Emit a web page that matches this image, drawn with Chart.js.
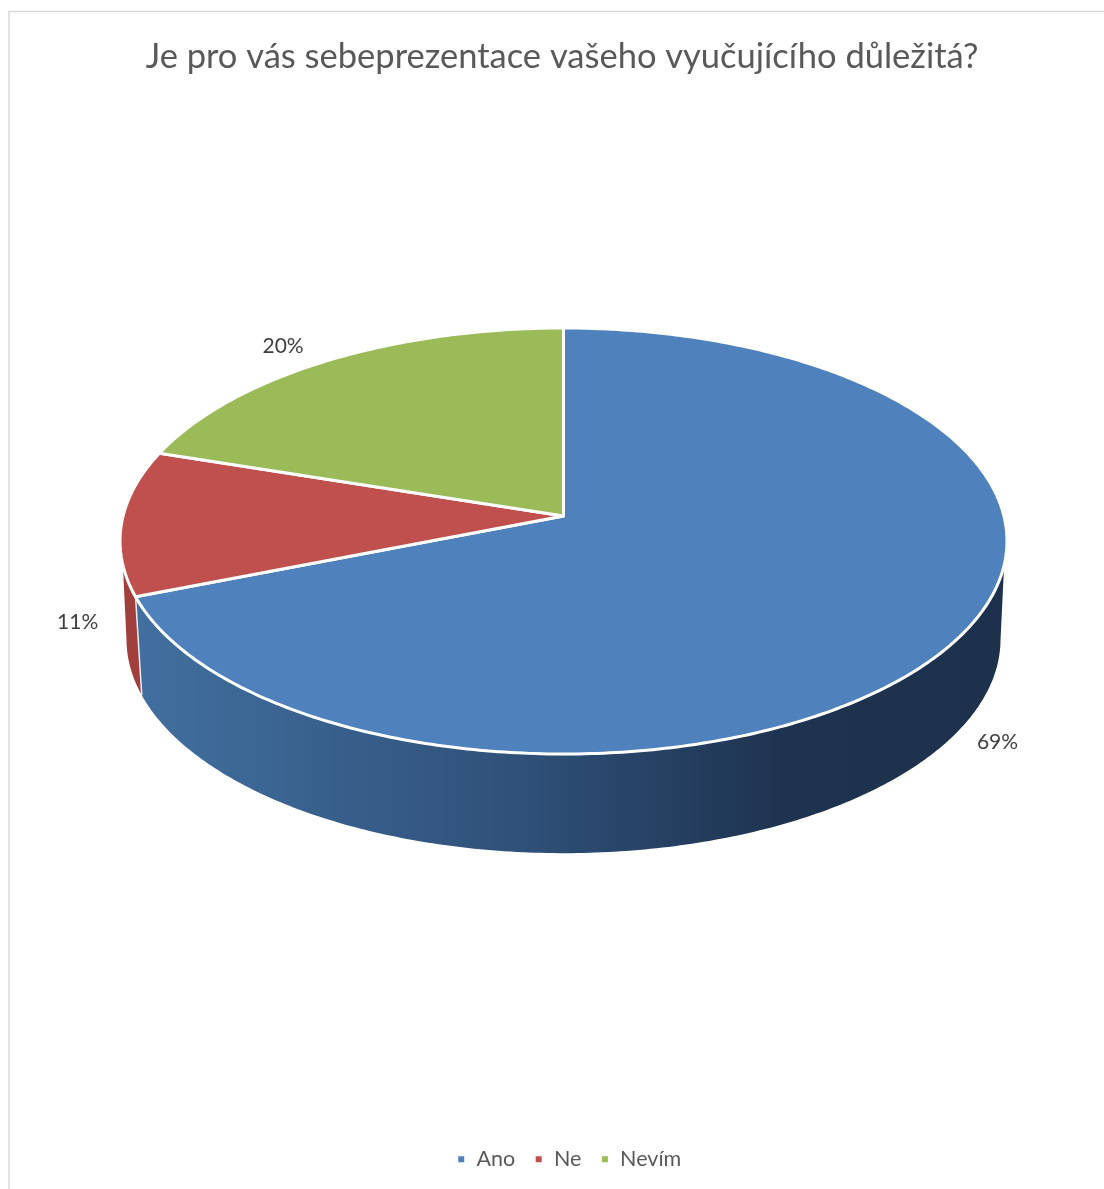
<!DOCTYPE html>
<html lang="cs">
<head>
<meta charset="utf-8">
<title>Sebeprezentace</title>
<script src="https://cdn.jsdelivr.net/npm/chart.js@4/dist/chart.umd.min.js"></script>
<style>
  html, body { margin: 0; background: #fff; }
  canvas { display: block; }
</style>
</head>
<body>
<canvas id="pie" width="1104" height="1189"></canvas>
<script>
const categories = ['Ano', 'Ne', 'Nevím'];
const percents = [69, 11, 20];
const sliceColors = ['#4f81bd', '#c0504d', '#9bbb59'];
const chartTitle = 'Je pro vás sebeprezentace vašeho vyučujícího důležitá?';

// perspective of the tilted disc: top rim and bottom rim of the cylinder
const top3d = { cx: 563.5, w: 440.4, a: 149.5, b: 516, k: -0.1174 };
const bottom3d = { cx: 563.5, w: 434, a: 139, b: 614, k: -0.1174 };
// visible part of the wall, in radians from the +x axis
const wallTopEdge = 0.229;
const wallBottomEdge = 0.12;

const project = (p, t) => {
  const X = Math.cos(t), Y = Math.sin(t);
  const d = 1 + p.k * Y;
  return { x: p.cx + p.w * X / d, y: (p.a * Y + p.b) / d };
};

function rimTo(ctx, p, from, to) {
  const steps = Math.max(2, Math.ceil(Math.abs(to - from) * 80));
  for (let i = 0; i <= steps; i++) {
    const pt = project(p, from + (to - from) * i / steps);
    ctx.lineTo(pt.x, pt.y);
  }
}

function drawWall(ctx, arc, fill) {
  const t0 = Math.max(arc.startAngle, wallTopEdge);
  const t1 = Math.min(arc.endAngle, Math.PI - wallTopEdge);
  if (t1 <= t0) return;
  const b0 = Math.max(arc.startAngle, wallBottomEdge);
  const b1 = Math.min(arc.endAngle, Math.PI - wallBottomEdge);
  ctx.beginPath();
  rimTo(ctx, top3d, t0, t1);
  rimTo(ctx, bottom3d, b1, b0);
  ctx.closePath();
  ctx.fillStyle = fill;
  ctx.fill();
}

const pie3d = {
  id: 'pie3d',
  afterLayout(chart) {
    // legend sits a little right of the title axis
    chart.legend.left += 7;
    chart.legend.right += 7;
  },
  beforeDraw(chart) {
    // chart frame, only the top and left edges show
    const ctx = chart.ctx;
    ctx.save();
    ctx.strokeStyle = '#d9d9d9';
    ctx.lineWidth = 1.5;
    ctx.beginPath();
    ctx.moveTo(9, chart.height);
    ctx.lineTo(9, 11.5);
    ctx.lineTo(chart.width, 11.5);
    ctx.stroke();
    ctx.restore();
  },
  beforeDatasetsDraw(chart) {
    const ctx = chart.ctx;
    const arcs = chart.getDatasetMeta(0).data;

    const blueWall = ctx.createLinearGradient(139, 0, 1000, 0);
    blueWall.addColorStop(0, '#416f9f');
    blueWall.addColorStop(0.45, '#2f5078');
    blueWall.addColorStop(0.75, '#1e334f');
    blueWall.addColorStop(1, '#1d314c');
    const wallFills = [blueWall, '#a13f3c', '#7c9647'];

    ctx.save();
    ctx.lineJoin = 'round';
    arcs.forEach((arc, i) => drawWall(ctx, arc, wallFills[i]));

    // seam between the two visible wall pieces
    const seamTop = project(top3d, arcs[0].endAngle);
    const seamBottom = project(bottom3d, arcs[0].endAngle);
    ctx.strokeStyle = '#e8edf3';
    ctx.lineWidth = 1.5;
    ctx.beginPath();
    ctx.moveTo(seamTop.x, seamTop.y);
    ctx.lineTo(seamBottom.x, seamBottom.y);
    ctx.stroke();

    arcs.forEach((arc) => {
      ctx.beginPath();
      ctx.moveTo(top3d.cx, top3d.b);
      rimTo(ctx, top3d, arc.startAngle, arc.endAngle);
      ctx.closePath();
      ctx.fillStyle = arc.options.backgroundColor;
      ctx.fill();
      ctx.strokeStyle = arc.options.borderColor;
      ctx.lineWidth = arc.options.borderWidth;
      ctx.stroke();
    });

    // percentage labels sit outside the rim, front ones beside the wall
    ctx.fillStyle = '#404040';
    ctx.font = '21px Lato, sans-serif';
    ctx.textAlign = 'center';
    ctx.textBaseline = 'middle';
    arcs.forEach((arc, i) => {
      const mid = (arc.startAngle + arc.endAngle) / 2;
      const pt = project(top3d, mid);
      const dx = Math.cos(mid) > 0 ? 44 : -44;
      const dy = Math.sin(mid) > -0.2 ? 100 : -15;
      ctx.fillText(percents[i] + '%', pt.x + dx, pt.y + dy);
    });
    ctx.restore();
    return false;
  }
};

new Chart(document.getElementById('pie'), {
  type: 'pie',
  data: {
    labels: categories,
    datasets: [{
      data: percents,
      backgroundColor: sliceColors,
      borderColor: '#ffffff',
      borderWidth: 3
    }]
  },
  options: {
    responsive: false,
    animation: false,
    layout: { padding: { left: 20, bottom: 9 } },
    plugins: {
      title: {
        display: true,
        text: chartTitle,
        color: '#595959',
        font: { family: 'Lato, sans-serif', size: 34.5, weight: 'normal' },
        padding: { top: 36, bottom: 10 }
      },
      legend: {
        position: 'bottom',
        labels: {
          usePointStyle: true,
          pointStyle: 'rect',
          boxWidth: 9,
          boxHeight: 9,
          padding: 19,
          color: '#595959',
          font: { family: 'Lato, sans-serif', size: 21.5 }
        }
      },
      tooltip: { enabled: false }
    }
  },
  plugins: [pie3d]
});
</script>
</body>
</html>
